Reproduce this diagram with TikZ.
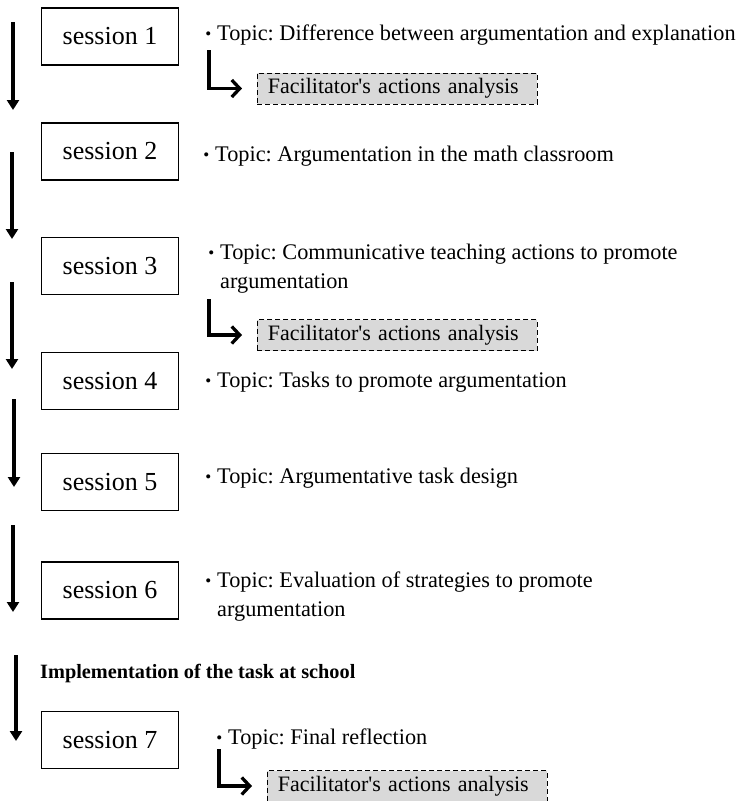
\documentclass[tikz,border=0pt]{standalone}
\usepackage{fontspec}
\setmainfont{Liberation Serif}
\usetikzlibrary{arrows.meta}
\frenchspacing
\newcommand{\tbul}{\llap{\raisebox{1.5pt}{\fontsize{17}{17}\selectfont\textbullet}\hspace{6pt}}}
\begin{document}
\begin{tikzpicture}[x=1pt, y=-1pt]
	\tikzstyle{session} = [ draw, rectangle, line width=1.3pt, minimum width=137pt, minimum height=57pt, font={\fontsize{26}{30}\selectfont}];
	\tikzstyle{topic} = [ anchor=north west, inner sep=0pt, align=left, font={\fontsize{22.3}{29}\selectfont}];
	\tikzstyle{analysis} = [ draw, dashed, dash pattern=on 5pt off 3pt, line width=0.9pt, fill=black!15, anchor=west, text width=259pt, inner xsep=10.5pt, minimum height=31pt, font={\fontsize{22}{26}\selectfont}];
	\tikzstyle{flow} = [ -{Triangle[length=10pt, width=12pt]}, line width=3.3pt];
	\tikzstyle{hook} = [ -{Straight Barb[length=8pt, width=17pt]}, line width=3.3pt, shorten >=15pt];

	\useasboundingbox (0,0) rectangle (739,801);

	\foreach \i/\y in {1/36.5, 2/151.5, 3/266, 4/381, 5/482, 6/590.5, 7/740}
		\node[session] (s\i) at (110,\y) {session \i};

	\foreach \ys/\ye/\x [count=\i] in {22/110/13, 152/239/12, 282/369/12, 399/487/14, 525/612/13, 655/741/16} {
		\coordinate (a\i) at (\x,\ys);
		\coordinate (b\i) at (\x,\ye);
		\draw[flow] (a\i) -- (b\i);
	}

	\node[topic] (t1) at (217,25) {\tbul Topic: Difference between argumentation and explanation};
	\node[topic] (t2) at (215,146) {\tbul Topic: Argumentation in the math classroom};
	\node[topic] (t3) at (220,244) {\tbul Topic: Communicative teaching actions to promote\\argumentation};
	\node[topic] (t4) at (217,372) {\tbul Topic: Tasks to promote argumentation};
	\node[topic] (t5) at (217,468) {\tbul Topic: Argumentative task design};
	\node[topic] (t6) at (217,572) {\tbul Topic: Evaluation of strategies to promote\\argumentation};
	\node[topic] (t7) at (228,729) {\tbul Topic: Final reflection};

	\node[anchor=base west, inner sep=0pt, font={\fontsize{20.3}{24}\bfseries\selectfont}] (impl) at (40,678) {Implementation of the task at school};

	\node[analysis] (f1) at (257,88.5) {Facilitator\textquotesingle s actions analysis};
	\node[analysis] (f2) at (257,335) {Facilitator\textquotesingle s actions analysis};
	\node[analysis] (f3) at (267,786) {Facilitator\textquotesingle s actions analysis};

	\coordinate (h1) at (209,50);
	\coordinate (h2) at (209,299);
	\coordinate (h3) at (219,749);
	\draw[hook] (h1) |- (f1);
	\draw[hook] (h2) |- (f2);
	\draw[hook] (h3) |- (f3);
\end{tikzpicture}
\end{document}
